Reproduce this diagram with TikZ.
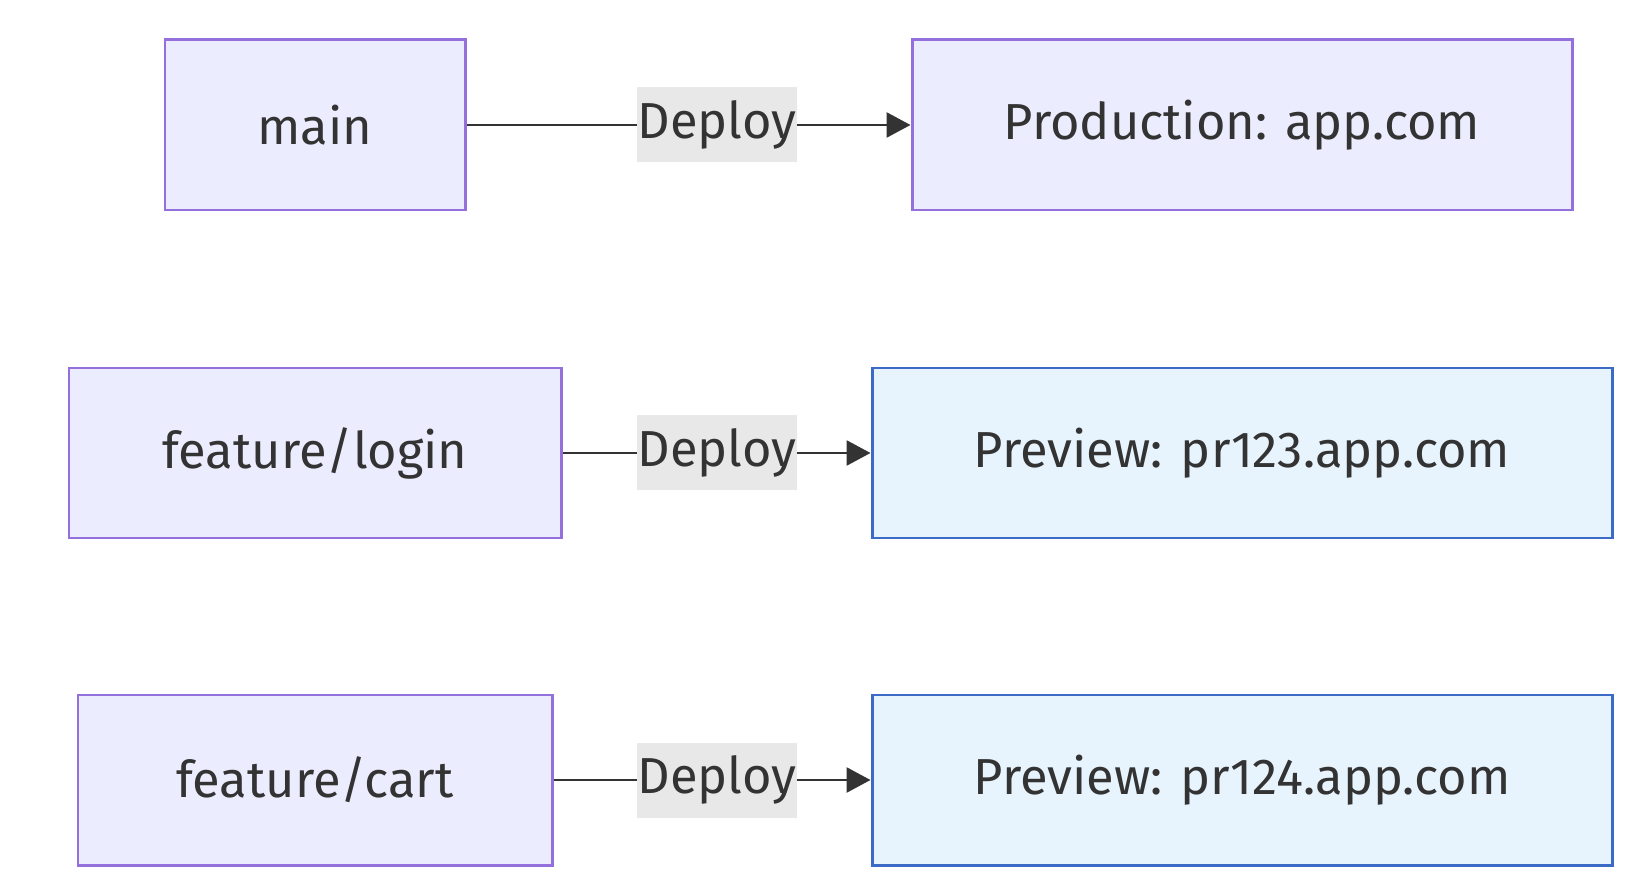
\documentclass[tikz,border=0pt]{standalone}
\usepackage{fontspec}
\setmainfont{Fira Sans}
\usetikzlibrary{arrows.meta}
\definecolor{branchfill}{HTML}{ECECFF}
\definecolor{branchline}{HTML}{9370DB}
\definecolor{previewfill}{HTML}{E8F4FD}
\definecolor{previewline}{HTML}{3B6BC6}
\definecolor{labelfill}{HTML}{E8E8E8}
\definecolor{ink}{HTML}{333333}
\begin{document}
\begin{tikzpicture}[
  box/.style={draw, line width=1.7pt, minimum height=3.4cm, align=center,
              inner sep=0pt, text=ink, font=\fontsize{28.8}{34}\selectfont},
  branch/.style={box, fill=branchfill, draw=branchline},
  preview/.style={box, fill=previewfill, draw=previewline},
  deploy/.style={fill=labelfill, text=ink, minimum width=3.08cm,
                 minimum height=1.5cm, inner sep=0pt,
                 font=\fontsize{28.8}{34}\selectfont},
  flow/.style={draw=ink, line width=1.6pt},
  tip/.style={flow, -{Triangle[length=0.48cm, width=0.5cm]}},
]
\useasboundingbox (0,0) rectangle (32.86,-17.68);

% Branches (left column)
\node[branch, minimum width=6.0cm] (main) at (6.3,-2.5) {main};
\node[branch, minimum width=9.84cm] (login) at (6.3,-9.06) {feature/login};
\node[branch, minimum width=9.48cm] (cart) at (6.3,-15.6) {feature/cart};

% Deploy targets (right column)
\node[branch, minimum width=13.2cm] (prod) at (24.84,-2.5) {Production: app.com};
\node[preview, minimum width=14.8cm] (pr123) at (24.84,-9.06) {Preview: pr123.app.com};
\node[preview, minimum width=14.8cm] (pr124) at (24.84,-15.6) {Preview: pr124.app.com};

% Edge labels
\node[deploy] (dmain) at (14.34,-2.5) {Deploy};
\node[deploy] (dlogin) at (14.34,-9.06) {Deploy};
\node[deploy] (dcart) at (14.34,-15.6) {Deploy};

% Connectors
\draw[flow] (main) -- (dmain);
\draw[tip] (dmain) -- (prod);
\draw[flow] (login) -- (dlogin);
\draw[tip] (dlogin) -- (pr123);
\draw[flow] (cart) -- (dcart);
\draw[tip] (dcart) -- (pr124);

\end{tikzpicture}
\end{document}
